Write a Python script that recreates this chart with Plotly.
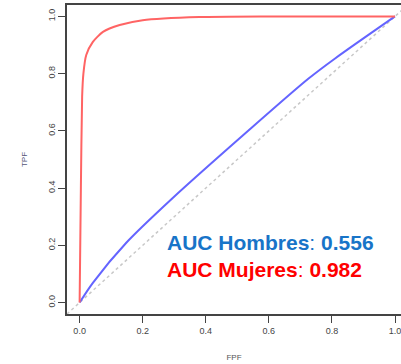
import plotly.graph_objects as go

# ROC data
fpr_mujeres = [0.0, 0.004, 0.008, 0.012, 0.021, 0.042, 0.074, 0.127, 0.2, 0.38, 0.6, 1.0]
tpr_mujeres = [0.0, 0.40, 0.72, 0.80, 0.865, 0.911, 0.946, 0.970, 0.987, 0.998, 1.0, 1.0]
fpr_hombres = [0.0, 0.042, 0.148, 0.291, 0.529, 0.725, 0.81, 1.0]
tpr_hombres = [0.0, 0.069, 0.209, 0.361, 0.595, 0.782, 0.853, 1.0]
diag = [-0.04, 1.04]
tick_vals = [0.0, 0.2, 0.4, 0.6, 0.8, 1.0]
tick_text = ["0.0", "0.2", "0.4", "0.6", "0.8", "1.0"]
auc_hombres = "0.556"
auc_mujeres = "0.982"

fig = go.Figure()
fig.add_trace(go.Scatter(x=diag, y=diag, mode="lines",
                         line=dict(color="#c8c8c8", width=1.5, dash="dot"),
                         hoverinfo="skip", showlegend=False))
fig.add_trace(go.Scatter(x=fpr_hombres, y=tpr_hombres, mode="lines",
                         line=dict(color="#6464ff", width=2, shape="spline", smoothing=0.8),
                         showlegend=False))
fig.add_trace(go.Scatter(x=fpr_mujeres, y=tpr_mujeres, mode="lines",
                         line=dict(color="#ff6464", width=2, shape="spline", smoothing=0.6),
                         showlegend=False))

axis_common = dict(showgrid=False, zeroline=False, showline=True, linecolor="#444",
                   linewidth=1.5, ticks="outside", ticklen=7, tickwidth=1.2,
                   tickcolor="#444", tickvals=tick_vals, ticktext=tick_text, automargin=False,
                   ticklabeloverflow="allow",
                   tickfont=dict(family="Liberation Sans", size=9, color="#444"))

fig.update_xaxes(range=[-0.04, 1.019], mirror=True, title=dict(text="FPF", standoff=20,
                 font=dict(family="Liberation Sans", size=8, color="#555")), **axis_common)
fig.update_yaxes(range=[-0.04, 1.04], tickangle=-90, title=dict(text="TPF", standoff=18,
                 font=dict(family="Liberation Sans", size=8, color="#557")), **axis_common)

fig.add_annotation(x=0.272, y=0.2105, xref="x", yref="y", xanchor="left", yanchor="middle",
                   text="<b>AUC Hombres</b>: <b>" + auc_hombres + "</b>", showarrow=False,
                   font=dict(family="Liberation Sans", size=21, color="#1874c8"))
fig.add_annotation(x=0.272, y=0.116, xref="x", yref="y", xanchor="left", yanchor="middle",
                   text="<b>AUC Mujeres</b>: <b>" + auc_mujeres + "</b>", showarrow=False,
                   font=dict(family="Liberation Sans", size=21, color="#ff0000"))

fig.update_layout(width=401, height=364, margin=dict(l=67, r=0, t=5, b=50),
                  plot_bgcolor="white", paper_bgcolor="white")
fig.write_html("out.html", config={"displayModeBar": False},
               post_script="document.body.style.margin='0';document.body.style.overflow='hidden';")
